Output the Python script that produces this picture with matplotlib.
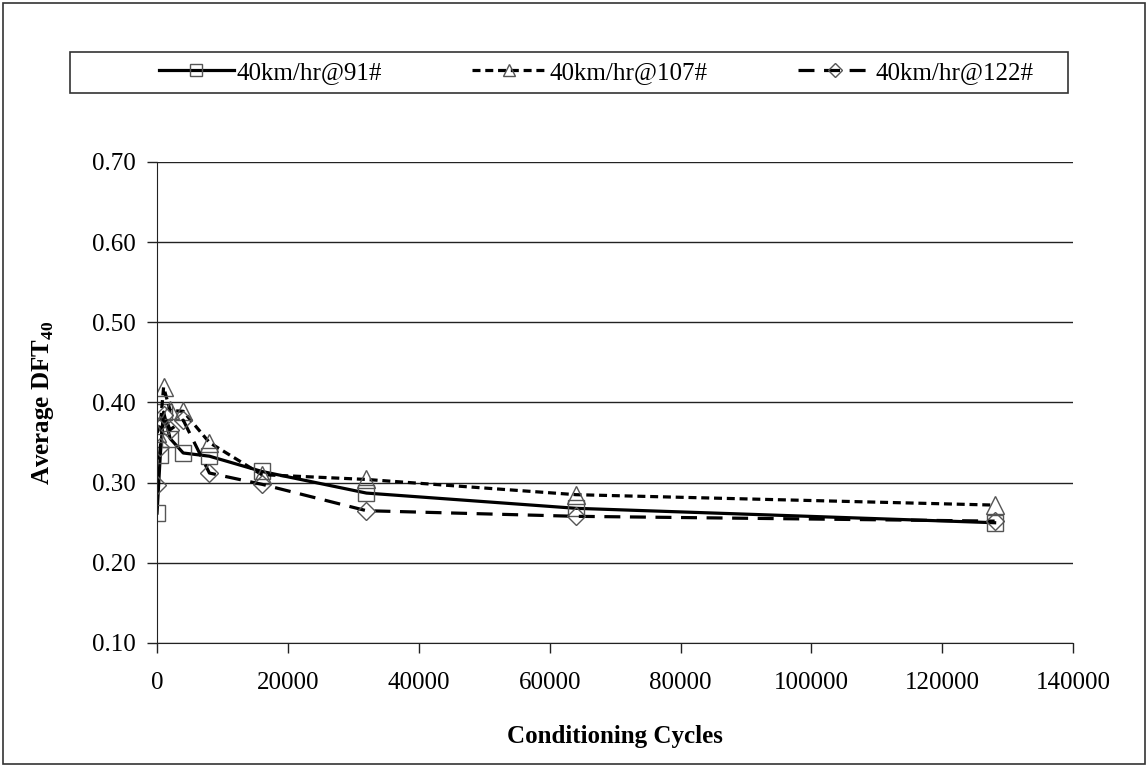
import matplotlib
matplotlib.use("Agg")
import matplotlib.pyplot as plt
from matplotlib.patches import Rectangle

plt.rcParams['font.family'] = ['Liberation Serif', 'DejaVu Serif']
plt.rcParams['mathtext.fontset'] = 'custom'
plt.rcParams['mathtext.rm'] = 'Liberation Serif'
plt.rcParams['mathtext.bf'] = 'Liberation Serif:bold'

# conditioning cycles and average DFT40 for each speed / setting
cycles = [0, 500, 1000, 2000, 4000, 8000, 16000, 32000, 64000, 128000]
dft_91 = [0.262, 0.335, 0.388, 0.355, 0.337, 0.333, 0.314, 0.287, 0.268, 0.250]
dft_107 = [0.362, 0.372, 0.419, 0.390, 0.389, 0.350, 0.310, 0.304, 0.285, 0.272]
dft_122 = [0.297, 0.345, 0.385, 0.366, 0.378, 0.312, 0.298, 0.265, 0.258, 0.252]
labels = ['40km/hr@91#', '40km/hr@107#', '40km/hr@122#']

fig = plt.figure(figsize=(11.48, 7.67), dpi=100)
ax = fig.add_axes([0.1368, 0.1617, 0.7980, 0.6271])

mk = dict(markerfacecolor='none', markeredgecolor='#555555', markeredgewidth=1.0)
ax.plot(cycles, dft_91, color='black', lw=2.3, marker='s', markersize=11.5, label=labels[0], **mk)
ax.plot(cycles, dft_107, color='black', lw=2.3, dashes=(2.5, 1.5), marker='^', markersize=12.5,
        label=labels[1], **mk)
ax.plot(cycles, dft_122, color='black', lw=2.3, dashes=(5, 3), marker='D', markersize=9.5,
        label=labels[2], **mk)

ax.set_xlim(0, 140000)
ax.set_ylim(0.10, 0.70)
ax.set_xticks(range(0, 140001, 20000))
ax.set_yticks([0.1, 0.2, 0.3, 0.4, 0.5, 0.6, 0.7])
ax.set_yticklabels(['%.2f' % v for v in ax.get_yticks()])
ax.yaxis.grid(True, color='#222222', lw=1.0)
ax.set_axisbelow(True)
for s in ['top', 'right']:
    ax.spines[s].set_visible(False)
for s in ['left', 'bottom']:
    ax.spines[s].set_color('#222222')
ax.tick_params(axis='both', direction='out', length=7, width=1, color='#222222',
               labelsize=18, pad=8)
ax.tick_params(axis='x', pad=14)

ax.set_xlabel('Conditioning Cycles', fontsize=18, fontweight='bold', labelpad=22)
ax.set_ylabel(r'Average DFT$_{\mathbf{40}}$', fontsize=18, fontweight='bold', labelpad=26)

# legend box across the top
fig.patches.append(Rectangle((70 / 1148, 1 - 93 / 767), 998 / 1148, 41 / 767,
                             transform=fig.transFigure, fill=False, ec='#333333', lw=1.2))
leg = fig.legend(loc='center', bbox_to_anchor=(596 / 1148, 1 - 72.5 / 767), ncol=3,
                 frameon=False, fontsize=18, handlelength=3.0, handletextpad=0.1,
                 columnspacing=3.6, markerscale=0.7)

# chart border
fig.patches.append(Rectangle((0.003, 0.004), 0.994, 0.992, transform=fig.transFigure,
                             fill=False, ec='#333333', lw=1.2))

fig.savefig('out.png', dpi=100)
